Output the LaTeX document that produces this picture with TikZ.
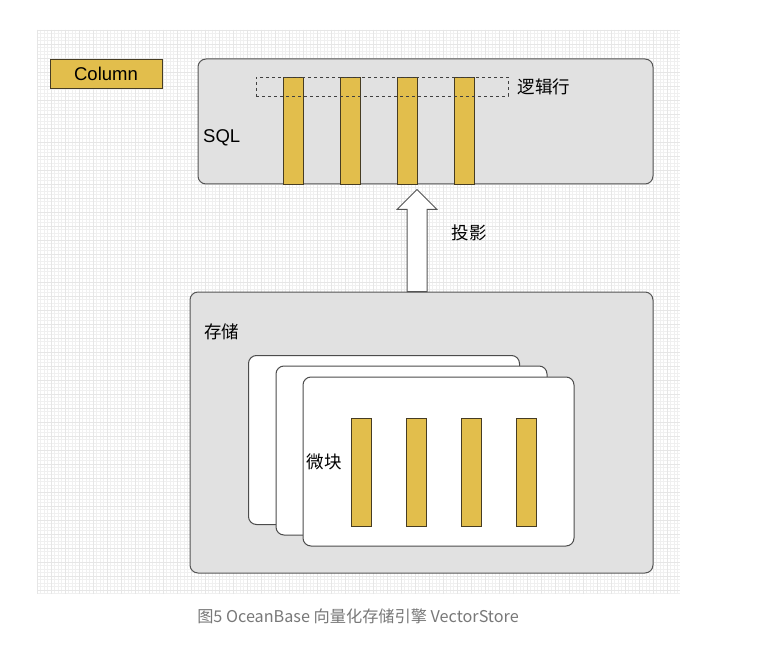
\documentclass[tikz,border=0pt]{standalone}
\usepackage{fontspec}
\setmainfont{Liberation Sans}
\newfontfamily\cjk{Noto Sans CJK SC}
\usetikzlibrary{positioning,calc}

\definecolor{colgold}{RGB}{226,190,76}
\definecolor{colgoldline}{RGB}{70,60,35}
\definecolor{panelgray}{RGB}{225,225,225}
\definecolor{panelline}{RGB}{85,85,85}
\definecolor{gridminor}{RGB}{240,240,240}
\definecolor{gridmajor}{RGB}{230,230,230}
\definecolor{captiongray}{RGB}{120,120,120}

\tikzset{
  column/.style={draw=colgoldline, fill=colgold, line width=0.9pt,
    minimum width=20pt, inner sep=0pt},
  panel/.style={draw=panelline, fill=panelgray, line width=1pt,
    rounded corners=8pt, inner sep=0pt},
  card/.style={draw=panelline!90!black, fill=white, line width=1pt,
    rounded corners=8pt, minimum width=271pt, minimum height=169pt, inner sep=0pt},
  label/.style={font=\fontsize{18.5}{20}\selectfont, inner sep=0pt},
  cjklabel/.style={font=\cjk\fontsize{17.5}{20}\selectfont, inner sep=0pt},
  projarrow/.style={draw=panelline, fill=white, line width=1pt, line join=miter}
}

\begin{document}
\begin{tikzpicture}[x=1pt, y=-1pt]
  \useasboundingbox (0,0) rectangle (761,650);
  \fill[white] (0,0) rectangle (761,650);

  % grid background
  \foreach \gx in {0,...,183}
    \draw[gridminor, line width=0.4pt] ({37+3.5*\gx},30) -- ({37+3.5*\gx},594);
  \foreach \gy in {0,...,161}
    \draw[gridminor, line width=0.4pt] (37,{30+3.5*\gy}) -- (680,{30+3.5*\gy});
  \foreach \gx in {0,...,45}
    \draw[gridmajor, line width=0.4pt] ({37+14*\gx},30) -- ({37+14*\gx},594);
  \foreach \gy in {0,...,40}
    \draw[gridmajor, line width=0.4pt] (37,{30+14*\gy}) -- (680,{30+14*\gy});

  % legend
  \node[column, minimum width=112pt, minimum height=29pt] (legend) at (106,73.5) {};
  \node[label] at (legend) {Column};

  % SQL layer
  \node[panel, minimum width=455pt, minimum height=125pt] (sql) at (425.5,121.5) {};
  \node[label, anchor=west] (sqltext) at (203,138) {SQL};
  \foreach \i in {1,...,4}
    \node[column, minimum height=107pt] (scol\i) at ({293+57*(\i-1)},130.5) {};
  \node[draw=black!75, dashed, line width=0.8pt, minimum width=252pt,
        minimum height=19pt, inner sep=0pt] (rowbox) at (382,86.5) {};
  \node[cjklabel, right=9pt of rowbox] (rowtext) {逻辑行};

  % storage layer
  \node[panel, minimum width=463pt, minimum height=281pt] (storage) at (421.5,432.5) {};
  \node[cjklabel, anchor=west] (storetext) at (204,332) {存储};

  % micro blocks
  \node[card] (card1) at (384,440) {};
  \node[card] (card2) at (411.5,450.5) {};
  \node[card] (card3) at (438.5,461.5) {};
  \node[cjklabel, right=4pt of card3.west] (blocktext) {微块};
  \foreach \i in {1,...,4}
    \node[column, minimum height=108pt] (bcol\i) at ({361.5+55*(\i-1)},472) {};

  % projection arrow
  \coordinate (ptail) at ([xshift=-4.5pt]storage.north);
  \draw[projarrow] ([xshift=-10pt]ptail) -- ++(0,-82) -- ++(-10,0) -- ++(20,-20)
    -- ++(20,20) -- ++(-10,0) -- ++(0,82) -- cycle;
  \node[cjklabel] (projtext) at (469,233) {投影};

  % caption
  \node[font=\cjk\fontsize{16.2}{18}\selectfont, text=captiongray, inner sep=0pt]
    (caption) at (358,616) {图5 OceanBase 向量化存储引擎 VectorStore};
\end{tikzpicture}
\end{document}
